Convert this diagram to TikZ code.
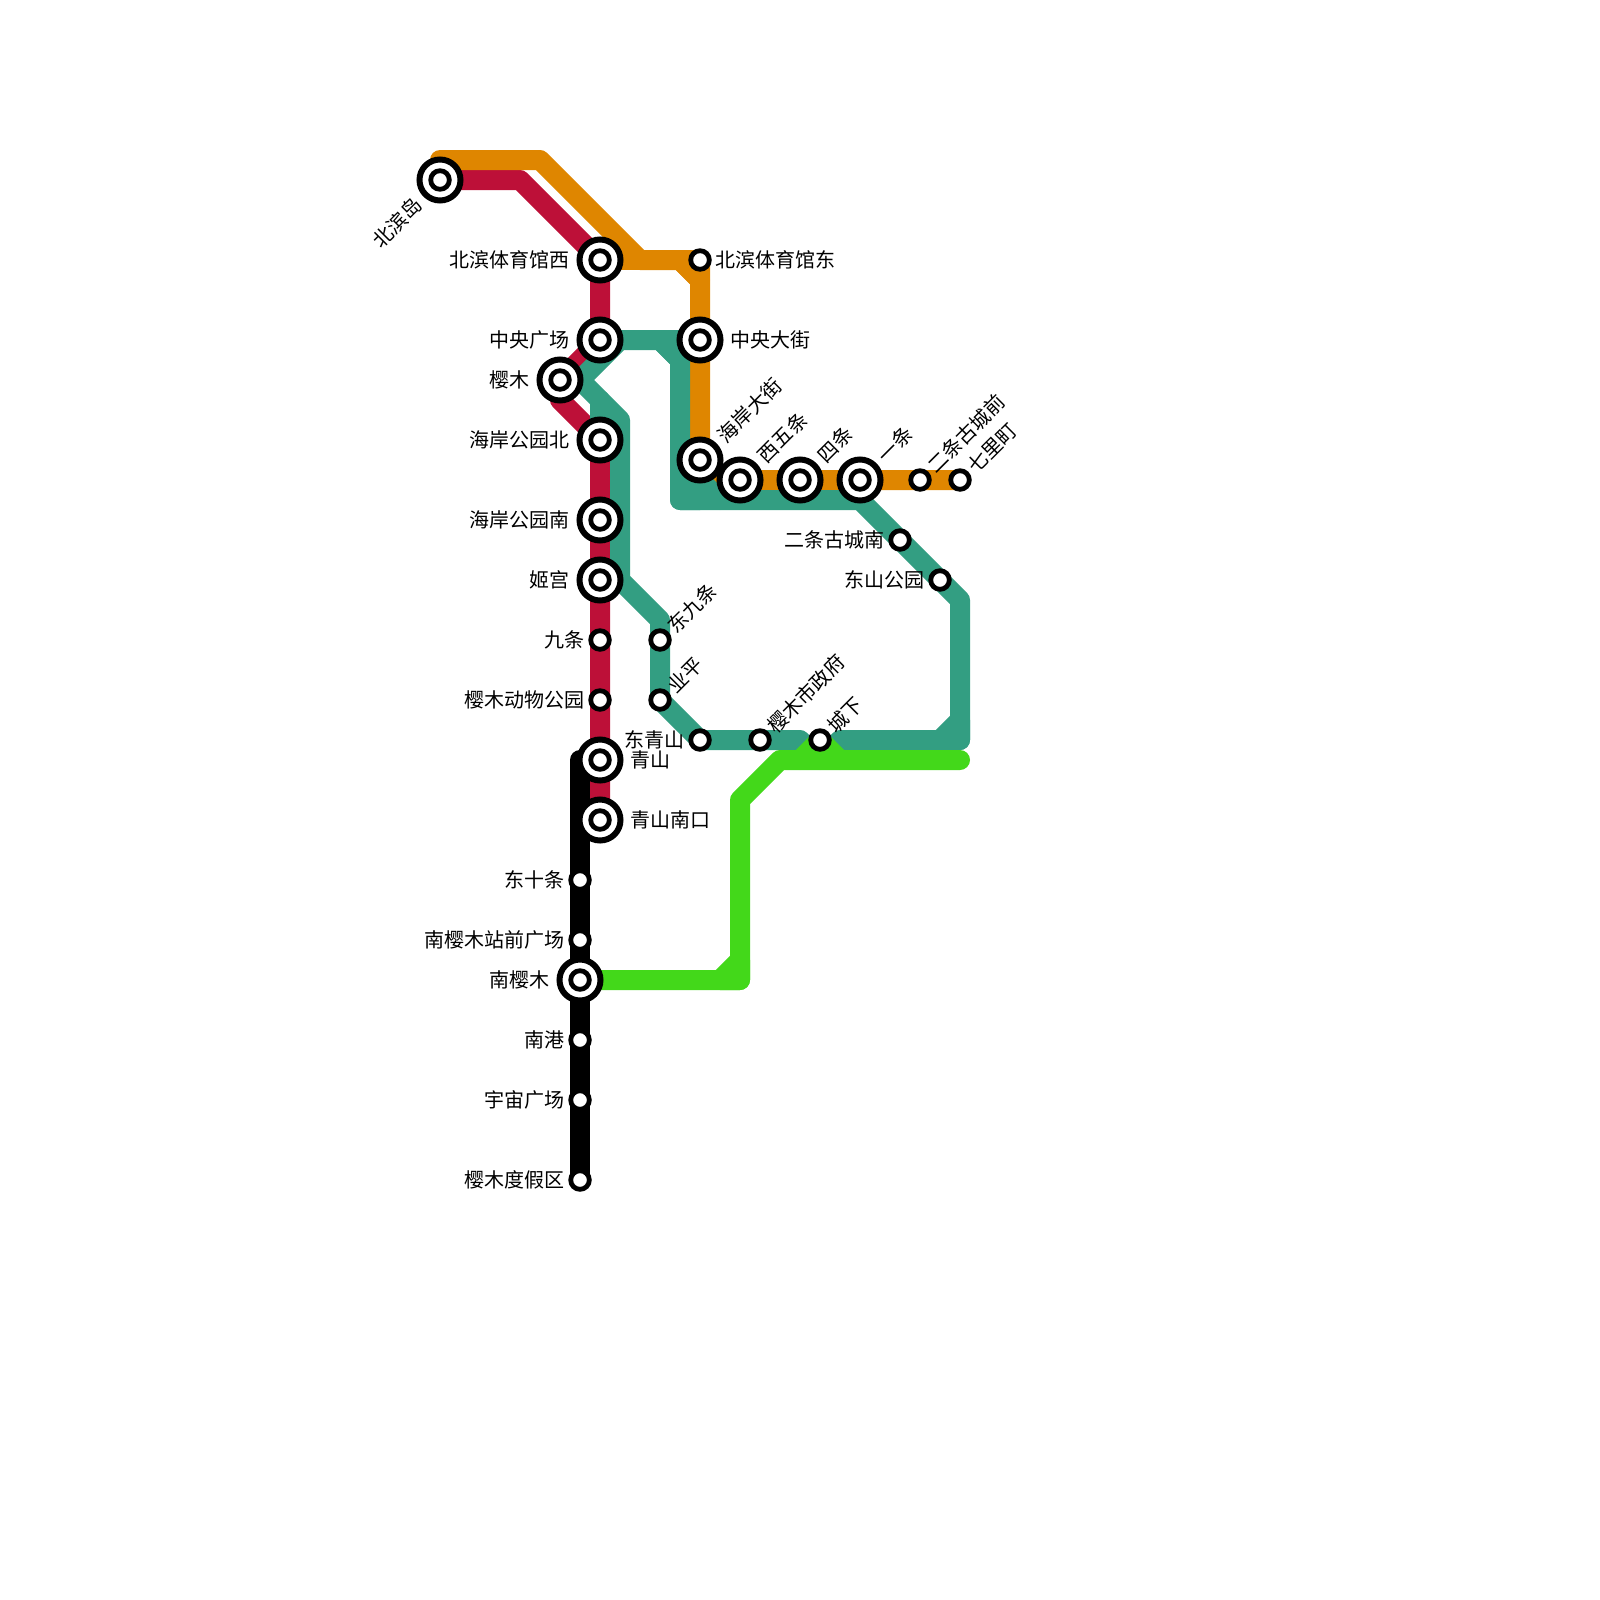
\documentclass[tikz,border=0pt]{standalone}
\usepackage{fontspec}
\newfontfamily\cjk{Noto Sans CJK SC}
\usetikzlibrary{backgrounds}
\definecolor{linered}{RGB}{189,16,56}
\definecolor{lineorange}{RGB}{223,134,0}
\definecolor{lineteal}{RGB}{51,158,130}
\definecolor{linegreen}{RGB}{67,216,26}
\tikzset{
  railline/.style={line width=20pt,line cap=round,line join=round},
  bigstop/.style={circle,draw=black,fill=white,line width=6pt,minimum size=41pt,inner sep=0pt,
    path picture={\draw[black,line width=4.8pt] (path picture bounding box.center) circle (9.3pt);}},
  smallstop/.style={circle,draw=black,fill=white,line width=4.8pt,minimum size=18.6pt,inner sep=0pt},
  stopname/.style={inner sep=0pt,font={\cjk\fontsize{20}{24}\selectfont}},
  nameL/.style={stopname,anchor=east,xshift=-#1},
  nameL/.default=3.5pt,
  nameR/.style={stopname,anchor=west,xshift=#1},
  nameR/.default=3.5pt,
  nameNE/.style={stopname,rotate=45,anchor=west,xshift=#1},
  nameNE/.default=3.5pt,
  nameSW/.style={stopname,rotate=45,anchor=east,xshift=-#1},
  nameSW/.default=3.5pt
}
\begin{document}
\begin{tikzpicture}[x=1pt,y=-1pt]
    \useasboundingbox (0,0) rectangle (1600,1600);
    % stops
    \node[bigstop] (beidao) at (440,180) {};
    \node[bigstop] (tiyuW) at (600,260) {};
    \node[smallstop] (tiyuE) at (700,260) {};
    \node[bigstop] (zhongG) at (600,340) {};
    \node[bigstop] (zhongD) at (700,340) {};
    \node[bigstop] (yingmu) at (560,380) {};
    \node[bigstop] (haiB) at (600,440) {};
    \node[bigstop] (haiN) at (600,520) {};
    \node[bigstop] (jigong) at (600,580) {};
    \node[smallstop] (jiutiao) at (600,640) {};
    \node[smallstop] (dongwu) at (600,700) {};
    \node[bigstop] (qingshan) at (600,760) {};
    \node[bigstop] (qingN) at (600,820) {};
    \node[bigstop] (haiD) at (700,460) {};
    \node[bigstop] (xiwu) at (740,480) {};
    \node[bigstop] (sitiao) at (800,480) {};
    \node[bigstop] (yitiao) at (860,480) {};
    \node[smallstop] (ertiaoQ) at (920,480) {};
    \node[smallstop] (qili) at (960,480) {};
    \node[smallstop] (ertiaoN) at (900,540) {};
    \node[smallstop] (dongshan) at (940,580) {};
    \node[smallstop] (dongjiu) at (660,640) {};
    \node[smallstop] (yeping) at (660,700) {};
    \node[smallstop] (dongqing) at (700,740) {};
    \node[smallstop] (shizheng) at (760,740) {};
    \node[smallstop] (chengxia) at (820,740) {};
    \node[smallstop] (dongshi) at (580,880) {};
    \node[smallstop] (zhanqian) at (580,940) {};
    \node[bigstop] (nanying) at (580,980) {};
    \node[smallstop] (nangang) at (580,1040) {};
    \node[smallstop] (yuzhou) at (580,1100) {};
    \node[smallstop] (dujia) at (580,1180) {};
    % bends
    \coordinate (R1) at (520,180);
    \coordinate (R2) at (560,400);
    \coordinate (O1) at (440,160);
    \coordinate (O2) at (540,160);
    \coordinate (O3) at (640,260);
    \coordinate (O4) at (680,260);
    \coordinate (O5) at (700,280);
    \coordinate (O6) at (720,480);
    \coordinate (T1) at (660,340);
    \coordinate (T2) at (680,340);
    \coordinate (T3) at (680,360);
    \coordinate (T4) at (620,340);
    \coordinate (T5) at (580,380);
    \coordinate (T6) at (620,420);
    \coordinate (T7) at (620,580);
    \coordinate (T8) at (660,620);
    \coordinate (T9) at (800,740);
    \coordinate (T10) at (820,760);
    \coordinate (T11) at (840,740);
    \coordinate (T12) at (940,740);
    \coordinate (T13) at (960,740);
    \coordinate (T14) at (960,720);
    \coordinate (T15) at (960,600);
    \coordinate (T16) at (860,500);
    \coordinate (T17) at (720,500);
    \coordinate (T18) at (680,500);
    \coordinate (T19) at (680,480);
    \coordinate (T20) at (600,400);
    \coordinate (T21) at (700,500);
    \coordinate (T22) at (700,480);
    \coordinate (G1) at (720,980);
    \coordinate (G2) at (740,980);
    \coordinate (G3) at (740,960);
    \coordinate (G4) at (740,800);
    \coordinate (G5) at (780,760);
    \coordinate (G6) at (800,760);
    \coordinate (G7) at (840,760);
    \coordinate (G8) at (960,760);
    \coordinate (B1) at (580,760);
    % lines
    \begin{pgfonlayer}{background}
    \draw[railline,linered] (beidao.center) -- (R1) -- (tiyuW.center) -- (zhongG.center) -- (yingmu.center) -- (R2) -- (haiB.center) -- (qingN.center);
    \draw[railline,lineorange] (O1) -- (O2) -- (O3) -- (O4) -- (O5) -- (haiD.center) -- (O6) -- (qili.center);
    \draw[railline,lineorange] (tiyuW.center) -- (O3);
    \draw[railline,lineorange] (O4) -- (tiyuE.center) -- (O5) -- cycle;
    \draw[railline,lineteal] (T3) -- (T1) -- (T4) -- (T5) -- (T6) -- (T7) -- (T8) -- (yeping.center) -- (dongqing.center) -- (T9) -- (T10) -- (T11) -- (T13) -- (T15) -- (T16) -- (T18) -- cycle;
    \draw[railline,lineteal] (zhongG.center) -- (T4);
    \draw[railline,lineteal] (T1) -- (T2) -- (T3) -- cycle;
    \draw[railline,lineteal] (T12) -- (T13) -- (T14) -- cycle;
    \draw[railline,lineteal] (T19) -- (T18) -- (T21) -- cycle;
    \draw[railline,lineteal] (haiD.center) -- (T21);
    \draw[railline,lineteal] (T22) -- (T17);
    \draw[railline,lineteal] (T20) -- (haiB.center);
    \draw[railline,linegreen] (nanying.center) -- (G2) -- (G4) -- (G5) -- (G8);
    \draw[railline,linegreen] (G6) -- (chengxia.center) -- (G7);
    \draw[railline,linegreen] (G1) -- (G2) -- (G3) -- cycle;
    \draw[railline,black] (B1) -- (dujia.center);
    \end{pgfonlayer}
    % names
    \node[nameSW=6.5pt] (tbeidao) at (beidao.south west) {北滨岛};
    \node[nameL=6.5pt] (ttiyuW) at (tiyuW.west) {北滨体育馆西};
    \node[nameR] (ttiyuE) at (tiyuE.east) {北滨体育馆东};
    \node[nameL=6.5pt] (tzhongG) at (zhongG.west) {中央广场};
    \node[nameR=6.5pt] (tzhongD) at (zhongD.east) {中央大街};
    \node[nameL=6.5pt] (tyingmu) at (yingmu.west) {樱木};
    \node[nameL=6.5pt] (thaiB) at (haiB.west) {海岸公园北};
    \node[nameL=6.5pt] (thaiN) at (haiN.west) {海岸公园南};
    \node[nameL=6.5pt] (tjigong) at (jigong.west) {姬宫};
    \node[nameL] (tjiutiao) at (jiutiao.west) {九条};
    \node[nameL] (tdongwu) at (dongwu.west) {樱木动物公园};
    \node[nameR=6.5pt] (tqingshan) at (qingshan.east) {青山};
    \node[nameR=6.5pt] (tqingN) at (qingN.east) {青山南口};
    \node[nameNE=6.5pt] (thaiD) at (haiD.north east) {海岸大街};
    \node[nameNE=6.5pt] (txiwu) at (xiwu.north east) {西五条};
    \node[nameNE=6.5pt] (tsitiao) at (sitiao.north east) {四条};
    \node[nameNE=6.5pt] (tyitiao) at (yitiao.north east) {一条};
    \node[nameNE] (tertiaoQ) at (ertiaoQ.north east) {二条古城前};
    \node[nameNE] (tqili) at (qili.north east) {七里町};
    \node[nameL] (tertiaoN) at (ertiaoN.west) {二条古城南};
    \node[nameL] (tdongshan) at (dongshan.west) {东山公园};
    \node[nameNE] (tdongjiu) at (dongjiu.north east) {东九条};
    \node[nameNE] (tyeping) at (yeping.north east) {业平};
    \node[nameL] (tdongqing) at (dongqing.west) {东青山};
    \node[nameNE] (tshizheng) at (shizheng.north east) {樱木市政府};
    \node[nameNE] (tchengxia) at (chengxia.north east) {城下};
    \node[nameL] (tdongshi) at (dongshi.west) {东十条};
    \node[nameL] (tzhanqian) at (zhanqian.west) {南樱木站前广场};
    \node[nameL=6.5pt] (tnanying) at (nanying.west) {南樱木};
    \node[nameL] (tnangang) at (nangang.west) {南港};
    \node[nameL] (tyuzhou) at (yuzhou.west) {宇宙广场};
    \node[nameL] (tdujia) at (dujia.west) {樱木度假区};
\end{tikzpicture}
\end{document}
